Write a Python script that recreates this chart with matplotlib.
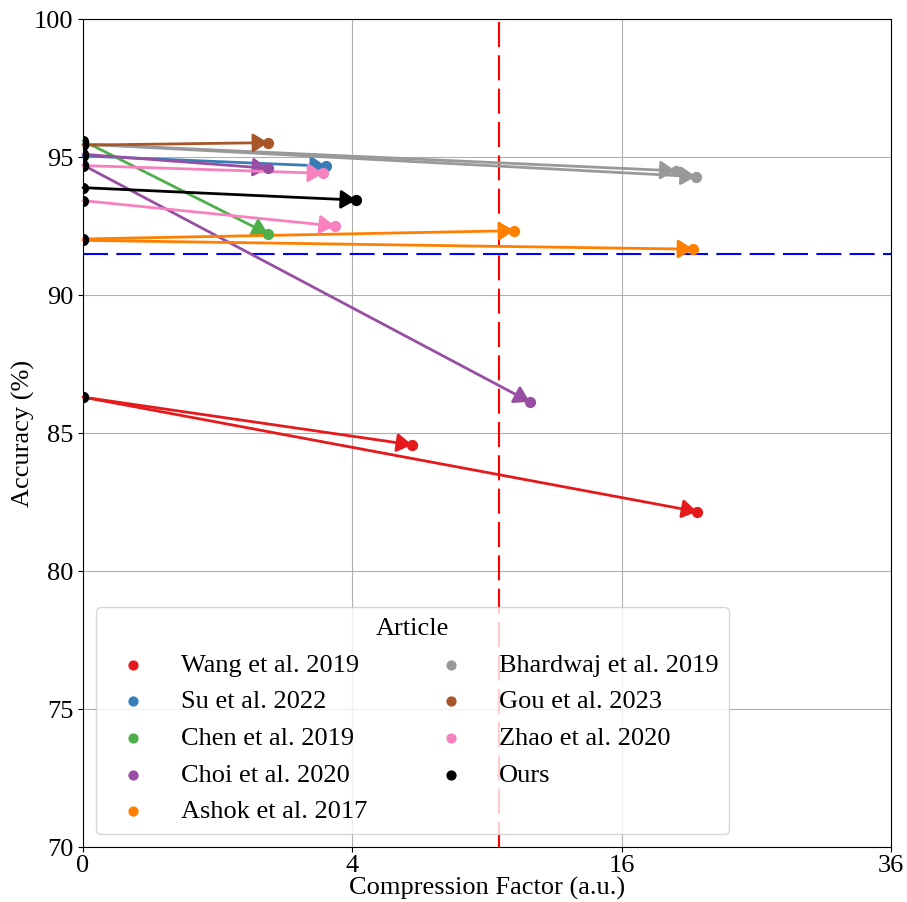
import numpy as np
import matplotlib
matplotlib.use("Agg")
import matplotlib.pyplot as plt

plt.rcParams['font.family'] = ['Liberation Serif', 'DejaVu Serif']
plt.rcParams['font.size'] = 19

# -------------------------------
# DATA (baseline -> compressed)
# -------------------------------
articles = ["Wang et al. 2019", "Su et al. 2022", "Chen et al. 2019", "Choi et al. 2020",
            "Ashok et al. 2017", "Bhardwaj et al. 2019", "Gou et al. 2023",
            "Zhao et al. 2020", "Ours"]
colors = ["#e41a1c", "#377eb8", "#4daf4a", "#984ea3", "#ff7f00",
          "#999999", "#a65628", "#f781bf", "#000000"]

# one entry per arrow
arrow_article = ["Wang et al. 2019", "Wang et al. 2019", "Su et al. 2022", "Chen et al. 2019",
                 "Choi et al. 2020", "Choi et al. 2020", "Ashok et al. 2017", "Ashok et al. 2017",
                 "Bhardwaj et al. 2019", "Bhardwaj et al. 2019", "Gou et al. 2023",
                 "Zhao et al. 2020", "Zhao et al. 2020", "Ours"]
base_acc = [86.3, 86.3, 95.04, 95.59, 94.71, 95.10, 92.03, 91.98,
            95.47, 95.47, 95.43, 94.69, 93.42, 93.89]
comp_factor = [5.97, 20.8, 3.25, 1.89, 11.0, 1.89, 10.25, 20.53,
               19.36, 20.71, 1.89, 3.18, 3.5, 4.11]
comp_acc = [84.57, 82.15, 94.67, 92.21, 86.13, 94.59, 92.33, 91.66,
            94.5, 94.29, 95.52, 94.41, 92.5, 93.44]

acc_threshold = 91.5
cf_threshold = 9.54

# -------------------------------
# PLOT
# -------------------------------
fig = plt.figure(figsize=(9.07, 9.02), dpi=100)
ax = fig.add_axes([83/907, 55/902, 808/907, 828/902])

ax.set_xscale('function', functions=(lambda x: np.sqrt(np.clip(x, 0, None)), lambda x: np.square(x)))

col_of = dict(zip(articles, colors))

for art, b, cf, a in zip(arrow_article, base_acc, comp_factor, comp_acc):
    c = col_of[art]
    ax.annotate("", xy=(cf, a), xytext=(0, b),
                arrowprops=dict(arrowstyle='-|>,head_length=0.45,head_width=0.28',
                                color=c, lw=2, mutation_scale=20,
                                shrinkA=0, shrinkB=0), zorder=3)

# baseline points
ax.scatter(np.zeros(len(base_acc)), base_acc, color='black', s=50, zorder=4)

# compressed points, one call per article for the legend
for art, c in zip(articles, colors):
    xs = [cf for aa, cf in zip(arrow_article, comp_factor) if aa == art]
    ys = [a for aa, a in zip(arrow_article, comp_acc) if aa == art]
    ax.scatter(xs, ys, color=c, s=50, zorder=4, label=art)

ax.axhline(acc_threshold, color='blue', lw=1.5, linestyle=(0, (12, 4)), zorder=2)
ax.axvline(cf_threshold, color='red', lw=1.5, linestyle=(0, (12, 4)), zorder=2)

ax.set_xlim(0, 36)
ax.set_ylim(70, 100)
ax.set_xticks([0, 4, 16, 36])
ax.set_xticklabels(["0", "4", "16", "36"])
ax.set_yticks([70, 75, 80, 85, 90, 95, 100])
ax.tick_params(axis='x', pad=2)
ax.grid(True, zorder=0)
ax.set_axisbelow(True)

ax.set_xlabel("Compression Factor (a.u.)", labelpad=0)
ax.set_ylabel("Accuracy (%)", labelpad=-1)

ax.legend(title="Article", ncol=2, loc='lower left', fontsize=19, title_fontsize=19,
          columnspacing=2.2, markerscale=0.9)

fig.savefig("out.png", dpi=100)
